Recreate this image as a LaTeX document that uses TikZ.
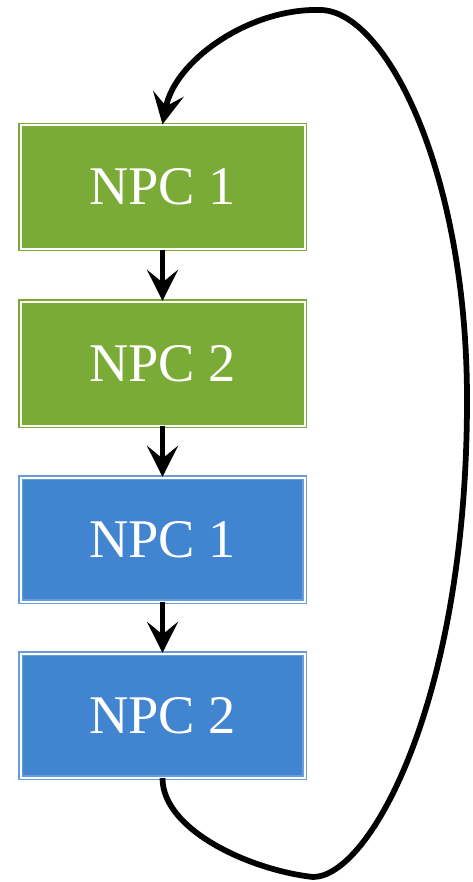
\documentclass[tikz,border=0pt]{standalone}
\usepackage{fontspec}
\setmainfont{Liberation Serif}
\usetikzlibrary{arrows.meta}
\definecolor{npcgreen}{RGB}{123,171,55}
\definecolor{npcblue}{RGB}{65,132,208}
\tikzset{
  npc/.style={rectangle,minimum width=5.68cm,minimum height=2.48cm,inner sep=0pt,
    double=white,double distance=0.04cm,line width=0.025cm,
    text=white,font=\fontsize{31}{37}\selectfont},
  greenbox/.style={npc,draw=npcgreen,fill=npcgreen},
  bluebox/.style={npc,draw=npcblue!80!white,fill=npcblue},
  flow/.style={line width=0.115cm,-{Stealth[length=0.62cm,width=0.62cm,inset=0.25cm]}}
}

\begin{document}
\begin{tikzpicture}
    \useasboundingbox (0,0) rectangle (9.44,-17.64);

    \node [greenbox] (g1) at (3.25,-3.74) {NPC 1};
    \node [greenbox] (g2) at (3.25,-7.27) {NPC 2};
    \node [bluebox] (b1) at (3.25,-10.79) {NPC 1};
    \node [bluebox] (b2) at (3.25,-14.31) {NPC 2};

    \draw [flow] (g1) -- (g2);
    \draw [flow] (g2) -- (b1);
    \draw [flow] (b1) -- (b2);

    % back to the top
    \draw [flow] (b2.south) .. controls (3.25,-16.6) and (5.0,-17.4) .. (6.26,-17.54)
      .. controls (7.40,-17.54) and (9.34,-14.0) .. (9.34,-8.0)
      .. controls (9.34,-3.4) and (7.70,-0.2) .. (6.40,-0.2)
      .. controls (5.0,-0.16) and (3.5,-1.2) .. (g1.north);
\end{tikzpicture}
\end{document}
